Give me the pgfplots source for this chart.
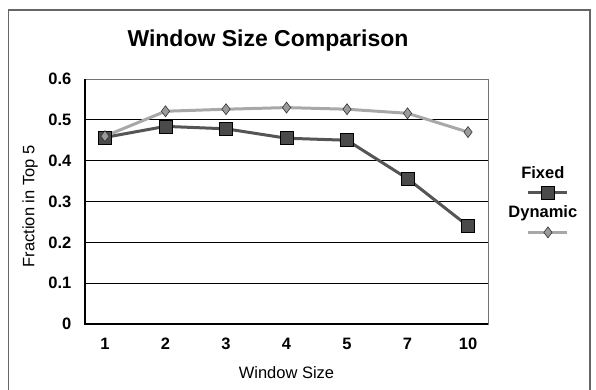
\documentclass[border=0pt]{standalone}
\usepackage{pgfplots}
\pgfplotsset{compat=1.18}
\usepackage{fontspec}
\setmainfont{Liberation Sans}
\definecolor{fixedline}{HTML}{555555}
\definecolor{fixedfill}{HTML}{4A4A4A}
\definecolor{dynline}{HTML}{A8A8A8}
\definecolor{dynfill}{HTML}{9A9A9A}
\begin{document}
\begin{tikzpicture}
\useasboundingbox (0pt,0pt) rectangle (596pt,389pt);
\draw[draw=black!60, line width=1.2pt] (8.5pt,-5pt) -- (8.5pt,379pt) -- (590pt,379pt) -- (590pt,-5pt);
\begin{axis}[
  at={(85pt,65pt)}, anchor=south west,
  scale only axis, width=403pt, height=245pt,
  xmin=-0.33, xmax=6.33, ymin=0, ymax=0.6,
  xtick={0,1,2,3,4,5,6},
  xticklabels={1,2,3,4,5,7,10},
  ytick={0,0.1,0.2,0.3,0.4,0.5,0.6},
  yticklabels={0,0.1,0.2,0.3,0.4,0.5,0.6},
  major tick length=0pt,
  tick style={draw=none},
  ymajorgrids, grid style={black, line width=0.7pt},
  axis line style={draw=black!55, line width=0.9pt},
  yticklabel style={font=\fontsize{16.5}{18}\selectfont\bfseries, anchor=east, inner sep=0pt, xshift=-13.5pt},
  xticklabel style={font=\fontsize{16.5}{18}\selectfont\bfseries, anchor=north, inner sep=0pt, yshift=-14pt},
  xlabel={Window Size},
  ylabel={Fraction in Top 5},
  xlabel style={font=\fontsize{16.5}{18}\selectfont, at={(axis description cs:0.5,-0.2)}, anchor=center},
  ylabel style={font=\fontsize{16.5}{18}\selectfont, at={(axis description cs:-0.1365,0.48)}, anchor=center},
  title={Window Size Comparison},
  title style={font=\fontsize{23}{26}\selectfont\bfseries, at={(axis description cs:0.454,1.11)}, anchor=base},
  clip=false,
  legend style={draw=none, fill=none, inner sep=0pt, at={(axis description cs:1.136,0.649)}, anchor=north,
    cells={anchor=center}, nodes={inner sep=1pt, font=\fontsize{16.5}{18}\selectfont\bfseries}, row sep=24pt},
  legend image code/.code={%
    \begin{scope}[overlay]
    \draw[mark repeat=2,mark phase=2,#1, xshift=21pt, yshift=-20pt] plot coordinates {(0pt,0pt) (19.5pt,0pt) (39pt,0pt)};
    \end{scope}},
  after end axis/.code={
    \draw[black, line width=1.8pt] (rel axis cs:0,1) -- (rel axis cs:0,0) -- (rel axis cs:1,0);
  },
]
\addplot[fixedline, line width=3pt, mark=square*, mark size=6.5pt,
  mark options={fill=fixedfill, draw=black, line width=0.6pt, solid}]
  coordinates {(0,0.457) (1,0.484) (2,0.478) (3,0.455) (4,0.450) (5,0.356) (6,0.240)};
\addlegendentry{Fixed}
\addplot[dynline, line width=3pt, mark=diamond*, mark size=5.5pt,
  mark options={fill=dynfill, draw=black!80, line width=0.6pt, solid}]
  coordinates {(0,0.460) (1,0.521) (2,0.526) (3,0.530) (4,0.526) (5,0.516) (6,0.470)};
\addlegendentry{Dynamic}
\end{axis}
\end{tikzpicture}
\end{document}
